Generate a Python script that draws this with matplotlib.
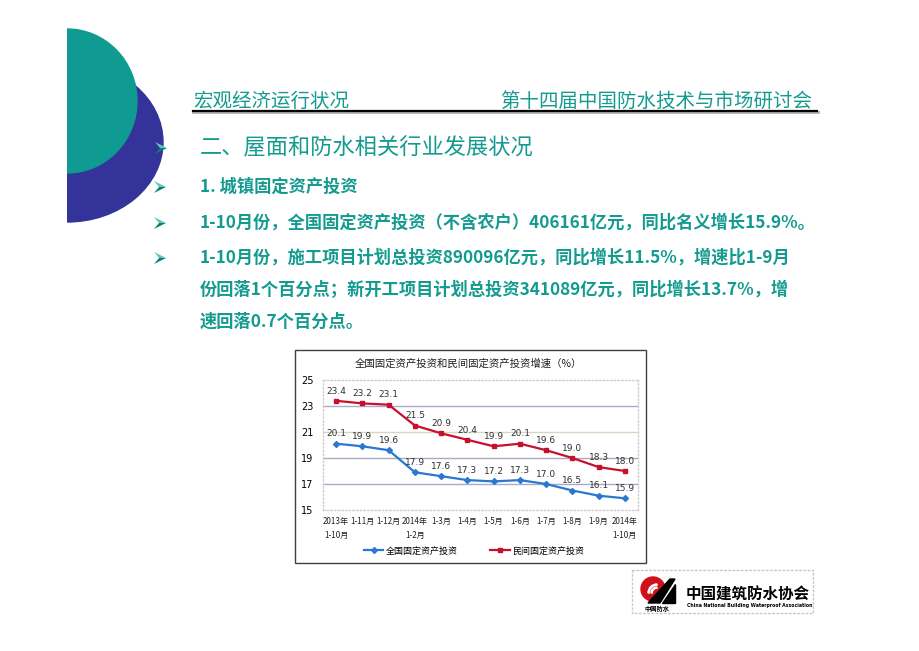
import matplotlib
matplotlib.use("Agg")
import matplotlib.pyplot as plt
from matplotlib.patches import Ellipse, Rectangle, Polygon, Circle, Wedge
from matplotlib.lines import Line2D

plt.rcParams['font.family'] = ['Noto Sans CJK SC', 'DejaVu Sans']

# ---- data ----
categories = ["2013年\n1-10月", "1-11月", "1-12月", "2014年\n1-2月", "1-3月", "1-4月",
              "1-5月", "1-6月", "1-7月", "1-8月", "1-9月", "2014年\n1-10月"]
national = [20.1, 19.9, 19.6, 17.9, 17.6, 17.3, 17.2, 17.3, 17.0, 16.5, 16.1, 15.9]
private = [23.4, 23.2, 23.1, 21.5, 20.9, 20.4, 19.9, 20.1, 19.6, 19.0, 18.3, 18.0]
series_names = ["全国固定资产投资", "民间固定资产投资"]
yticks = [15, 17, 19, 21, 23, 25]
chart_title = "全国固定资产投资和民间固定资产投资增速（%）"

header_left = "宏观经济运行状况"
header_right = "第十四届中国防水技术与市场研讨会"
section_title = "二、屋面和防水相关行业发展状况"
bullet_lines = [
    "1. 城镇固定资产投资",
    "1-10月份，全国固定资产投资（不含农户）406161亿元，同比名义增长15.9%。",
    "1-10月份，施工项目计划总投资890096亿元，同比增长11.5%，增速比1-9月",
    "份回落1个百分点；新开工项目计划总投资341089亿元，同比增长13.7%，增",
    "速回落0.7个百分点。",
]

W, H = 920, 651
teal = '#139b8f'
navy = '#33339a'
blue = '#2a78d0'
red = '#c8102e'

fig = plt.figure(figsize=(W / 100, H / 100), dpi=100)
bg = fig.add_axes([0, 0, 1, 1])
bg.set_xlim(0, W)
bg.set_ylim(H, 0)
bg.axis('off')

# decorative shapes (clipped at x=67)
clip = Rectangle((67, 0), 400, 400, transform=bg.transData)
e_blue = Ellipse((67, 142), 192, 160, color=navy, zorder=1)
e_teal = Ellipse((67, 101), 140, 144, color='#0f9a92', zorder=2)
for e in (e_blue, e_teal):
    bg.add_patch(e)
    e.set_clip_path(clip)


def arrow(cx, cy):
    # 3D-style arrowhead bullet
    bg.add_patch(Polygon([(cx - 6, cy - 6), (cx + 6, cy), (cx - 1, cy)], closed=True,
                         color='#5cc8bc', zorder=6, lw=0))
    bg.add_patch(Polygon([(cx - 6, cy + 6), (cx + 6, cy), (cx - 1, cy)], closed=True,
                         color='#0a7f74', zorder=6, lw=0))


# header
bg.text(193, 101, header_left, color=teal, fontsize=14, va='center', ha='left')
bg.text(812, 101, header_right, color=teal, fontsize=14, va='center', ha='right')
bg.plot([193, 818], [112, 112], color='#b0b0b0', lw=2, zorder=3)
bg.plot([193, 817], [110.5, 110.5], color='black', lw=1.6, zorder=4)

# section title and bullets
arrow(161, 148)
bg.text(200, 148, section_title, color=teal, fontsize=16, va='center', ha='left')
bullet_y = [187, 223, 258, 290, 322]
for i, (txt, yy) in enumerate(zip(bullet_lines, bullet_y)):
    bg.text(200, yy, txt, color=teal, fontsize=12.4, fontweight='bold', va='center', ha='left')
    if i < 3:
        arrow(160, yy)

# chart frame
bg.add_patch(Rectangle((295, 350), 351, 213, fill=False, edgecolor='#404040', lw=1.0))
bg.text(468, 364, chart_title, fontsize=7.5, ha='center', va='center', color='#202020')

# chart axes
ax = fig.add_axes([323 / W, 1 - 510 / H, (638 - 323) / W, 130 / H])
x = list(range(len(categories)))
ax.set_xlim(-0.5, len(categories) - 0.5)
ax.set_ylim(15, 25)
ax.set_yticks(yticks)
ax.set_yticklabels([str(v) for v in yticks], fontsize=7, family='DejaVu Sans')
ax.set_xticks(x)
ax.set_xticklabels(categories, fontsize=5.8, linespacing=1.7, color='#202020')
ax.tick_params(length=0, pad=5)
ax.tick_params(axis='y', pad=7)
grid_colors = {17: '#a9a9cf', 19: '#a9a9c4', 21: '#d6d8c4', 23: '#a9a9cf'}
for yv, c in grid_colors.items():
    ax.axhline(yv, color=c, lw=1.0, zorder=1)
for s in ax.spines.values():
    s.set_color('#cfcfcf')
    s.set_linestyle(':')
    s.set_linewidth(1.0)

ax.plot(x, national, color=blue, lw=1.6, marker='D', markersize=3, zorder=3, label=series_names[0])
ax.plot(x, private, color=red, lw=1.6, marker='s', markersize=3.5, zorder=3, label=series_names[1])
for xi, v in zip(x, national):
    ax.annotate(f"{v:.1f}", (xi, v), xytext=(0, 7), textcoords='offset points',
                ha='center', va='center', fontsize=6.5, family='DejaVu Sans', color='#303030')
for xi, v in zip(x, private):
    ax.annotate(f"{v:.1f}", (xi, v), xytext=(0, 7), textcoords='offset points',
                ha='center', va='center', fontsize=6.5, family='DejaVu Sans', color='#303030')

handles = [Line2D([], [], color=blue, lw=1.6, marker='D', markersize=3),
           Line2D([], [], color=red, lw=1.6, marker='s', markersize=3.5)]
fig.legend(handles, series_names, loc='center', bbox_to_anchor=(474 / W, 1 - 551 / H),
           ncol=2, frameon=False, fontsize=6.5, handlelength=2.2, columnspacing=3.5,
           handletextpad=0.3)

# logo
bg.add_patch(Rectangle((632, 570), 181, 43, fill=False, edgecolor='#c8c8c8', lw=1.0, ls=(0, (2, 1))))
bg.add_patch(Circle((653, 589), 12, color='#d0101a', zorder=5))
for r in (9, 6):
    bg.add_patch(Wedge((657, 593), r, 180, 270, width=1.2, color='white', zorder=6))
bg.add_patch(Polygon([(648, 603), (660, 603), (675, 579), (670, 579)], closed=True, color='black', zorder=7))
bg.add_patch(Polygon([(662, 603), (675, 603), (675, 584)], closed=True, color='black', zorder=7))
bg.text(657, 609, "中国防水", fontsize=4.5, ha='center', va='center', fontweight='bold')
bg.text(686, 595, "中国建筑防水协会", fontsize=11.2, ha='left', va='center', fontweight='bold')
bg.text(687, 606, "China National Building Waterproof Association", fontsize=3.3, ha='left',
        va='center', family='DejaVu Sans', fontweight='bold')

fig.savefig("out.png", dpi=100)
